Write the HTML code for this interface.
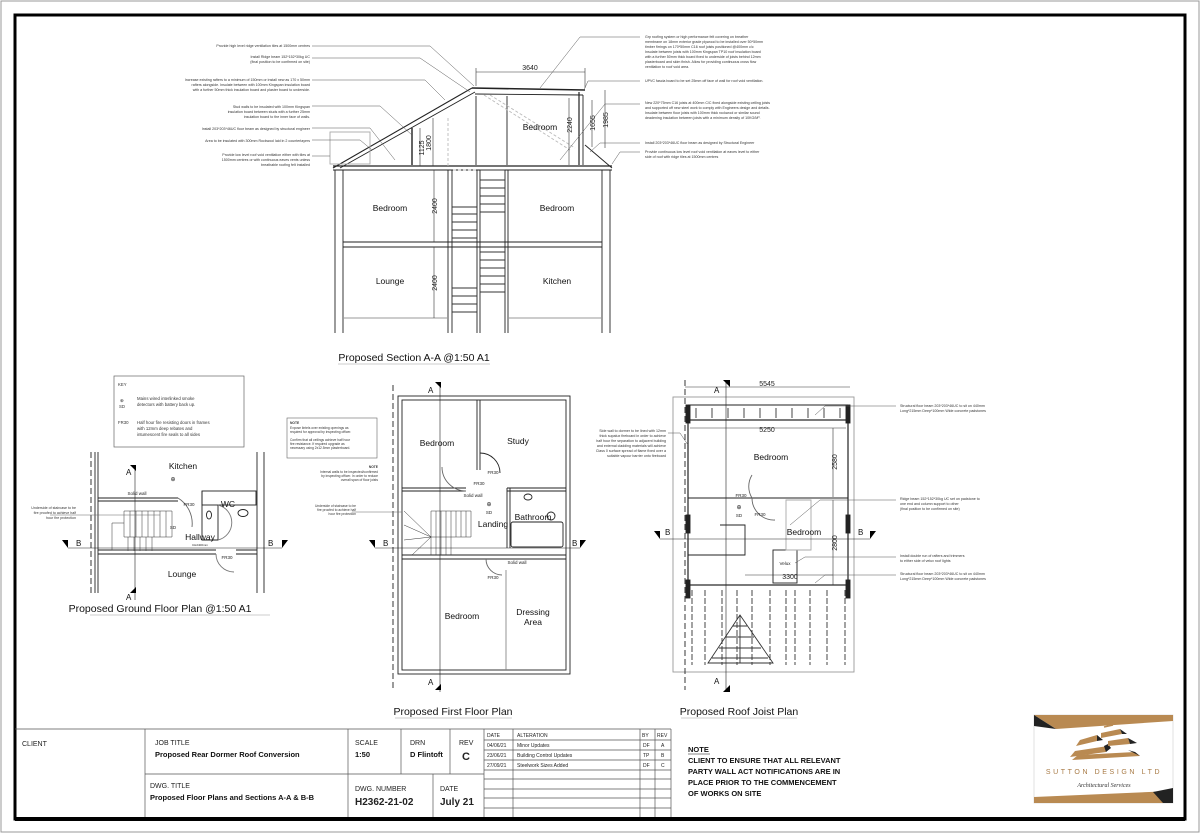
<!DOCTYPE html>
<html><head><meta charset="utf-8"><style>
html,body{margin:0;padding:0;background:#fff;}
svg{display:block;font-family:"Liberation Sans",sans-serif;}
.n{font-size:3.6px;fill:#333;}
.r{font-size:8.5px;fill:#111;}
.d{font-size:7px;fill:#222;}
.t{font-size:10.5px;fill:#111;}
.tb{font-size:7px;fill:#222;}
.tbb{font-size:7.5px;fill:#111;font-weight:bold;}
.s{font-size:4.5px;fill:#222;}
</style></head><body>
<svg width="1200" height="834" viewBox="0 0 1200 834" xmlns="http://www.w3.org/2000/svg">
<rect x="0" y="0" width="1200" height="834" fill="#fff"/>
<rect x="1" y="1" width="1198" height="831" fill="none" stroke="#999" stroke-width="1"/>
<rect x="15" y="15" width="1170" height="804" fill="none" stroke="#000" stroke-width="3"/>
<line x1="15" y1="819" x2="1185" y2="819" stroke="#000" stroke-width="4"/>

<!-- ============ SECTION A-A ============ -->
<g stroke="#222" stroke-width="0.9" fill="none">
  <line x1="335" y1="170" x2="335" y2="333"/><line x1="343" y1="170" x2="343" y2="333"/>
  <line x1="602" y1="170" x2="602" y2="333"/><line x1="610" y1="170" x2="610" y2="333"/>
  <line x1="448" y1="170" x2="448" y2="333"/><line x1="452" y1="170" x2="452" y2="333"/>
  <line x1="477" y1="170" x2="477" y2="333"/><line x1="480" y1="170" x2="480" y2="333"/>
  <line x1="505" y1="170" x2="505" y2="333"/><line x1="508" y1="170" x2="508" y2="333"/>
  <line x1="333" y1="166" x2="612" y2="166" stroke-width="1.2"/>
  <line x1="333" y1="170" x2="612" y2="170"/>
  <line x1="343" y1="242" x2="602" y2="242"/><line x1="343" y1="247" x2="602" y2="247"/>
  <line x1="343" y1="318" x2="448" y2="318" stroke="#999"/><line x1="508" y1="318" x2="602" y2="318" stroke="#999"/>
  <line x1="333" y1="168" x2="472" y2="88" stroke-width="1.1"/>
  <line x1="340" y1="168" x2="475" y2="92"/>
  <line x1="472" y1="88" x2="585" y2="90" stroke-width="1.6"/>
  <line x1="475" y1="94" x2="583" y2="95"/>
  <line x1="579" y1="92" x2="579" y2="165" stroke-width="1.2"/>
  <line x1="583" y1="95" x2="583" y2="165"/>
  <line x1="585" y1="145" x2="612" y2="168"/>
  <line x1="412" y1="128" x2="412" y2="165" stroke-width="1.4"/>
  <line x1="476" y1="96" x2="476" y2="165"/><line x1="507" y1="96" x2="507" y2="165"/>
  <rect x="330" y="132" width="40" height="32" stroke="#aaa"/>
  <g stroke="#bbb" stroke-dasharray="3,2"><line x1="484" y1="95" x2="570" y2="150"/><line x1="490" y1="95" x2="575" y2="148"/><line x1="448" y1="118" x2="448" y2="166"/><line x1="453" y1="170" x2="477" y2="170"/></g>
  <g stroke="#333">
   <path d="M480 170 h25 M480 180 h25 M480 188 h25 M480 196 h25 M480 204 h25 M480 212 h25"/>
   <path d="M452 207 h25 M452 214 h25 M452 222 h25 M452 230 h25 M452 238 h25 M477 200 v12"/>
   <path d="M480 252 h25 M480 260 h25 M480 268 h25 M480 276 h25 M480 284 h25 M480 292 h25"/>
   <path d="M452 288 h25 M452 296 h25 M452 304 h25 M452 312 h25"/>
  </g>
  <g stroke="#333" stroke-width="0.6">
   <line x1="476" y1="72" x2="585" y2="72"/><line x1="476" y1="68" x2="476" y2="86"/><line x1="585" y1="68" x2="585" y2="88"/>
   <line x1="433" y1="118" x2="433" y2="166"/><line x1="420" y1="128" x2="420" y2="166"/>
   <line x1="569" y1="98" x2="569" y2="165"/><line x1="592" y1="100" x2="592" y2="147"/><line x1="605" y1="90" x2="605" y2="148"/>
   <line x1="434" y1="170" x2="434" y2="242"/><line x1="434" y1="247" x2="434" y2="318"/>
  </g>
  <g stroke="#555" stroke-width="0.5">
   <path d="M312 46 H430 L474 86"/><path d="M312 58 H420 L470 92"/><path d="M312 80 H425 L445 100"/><path d="M312 106 H380 L412 135"/>
   <path d="M312 128 H370 L395 160"/><path d="M312 140 H360 L372 150"/><path d="M312 156 H330"/>
  </g>
  <g stroke="#555" stroke-width="0.5">
   <path d="M640 37 H580 L540 88"/><path d="M640 81 H588 L584 90"/><path d="M640 104 H605 L560 160"/><path d="M640 143 H600 L590 152"/><path d="M640 152 H620 L612 164"/>
  </g>
</g>
<g class="d" text-anchor="middle">
 <text x="530" y="70">3640</text>
 <text transform="translate(431,143) rotate(-90)">1800</text>
 <text transform="translate(424,148) rotate(-90)">1125</text>
 <text transform="translate(572,125) rotate(-90)">2240</text>
 <text transform="translate(595,123) rotate(-90)">1655</text>
 <text transform="translate(608,120) rotate(-90)">1985</text>
 <text transform="translate(437,206) rotate(-90)">2400</text>
 <text transform="translate(437,283) rotate(-90)">2400</text>
</g>
<g class="r" text-anchor="middle">
 <text x="540" y="130">Bedroom</text>
 <text x="390" y="211">Bedroom</text><text x="557" y="211">Bedroom</text>
 <text x="390" y="284">Lounge</text><text x="557" y="284">Kitchen</text>
</g>
<text class="t" x="414" y="361" text-anchor="middle">Proposed Section A-A @1:50 A1</text>
<line x1="338" y1="364" x2="490" y2="364" stroke="#999" stroke-width="0.6"/>
<g class="n" text-anchor="end">
 <text x="310" y="47">Provide high level ridge ventilation tiles at 1500mm centres</text>
 <text x="310" y="58">Install Ridge beam 152*152*30kg UC</text><text x="310" y="63">(final position to be confirmed on site)</text>
 <text x="310" y="81">Increase existing rafters to a minimum of 150mm or install new as 170 x 50mm</text>
 <text x="310" y="86">rafters alongside. Insulate between with 100mm Kingspan insulation board</text>
 <text x="310" y="91">with a further 50mm thick insulation board and plaster board to underside.</text>
 <text x="310" y="108">Stud walls to be insulated with 100mm Kingspan</text><text x="310" y="113">insulation board between studs with a further 25mm</text><text x="310" y="118">insulation board to the inner face of walls.</text>
 <text x="310" y="130">Install 203*203*46UC floor beam as designed by structural engineer</text>
 <text x="310" y="142">Area to be insulated with 300mm Rockwool laid in 2 counterlayers</text>
 <text x="310" y="156">Provide low level roof void ventilation either with tiles at</text><text x="310" y="161">1500mm centres or with continuous eaves vents unless</text><text x="310" y="166">breathable roofing felt installed</text>
</g>
<g class="n">
 <text x="645" y="38">Grp roofing system or high performance felt covering on breather</text>
 <text x="645" y="43">membrane on 18mm exterior grade plywood to be installed over 50*50mm</text>
 <text x="645" y="48">timber firrings on 170*50mm C16 roof joists positioned @400mm c/c</text>
 <text x="645" y="53">Insulate between joists with 100mm Kingspan TP10 roof insulation board</text>
 <text x="645" y="58">with a further 50mm thick board fixed to underside of joists behind 12mm</text>
 <text x="645" y="63">plasterboard and skim finish. Allow for providing continuous cross flow</text>
 <text x="645" y="68">ventilation to roof void area.</text>
 <text x="645" y="82">UPVC fascia board to be set 25mm off face of wall for roof void ventilation.</text>
 <text x="645" y="104">New 220*75mm C16 joists at 400mm C/C fixed alongside existing ceiling joists</text>
 <text x="645" y="109">and supported off new steel work to comply with Engineers design and details.</text>
 <text x="645" y="114">Insulate between floor joists with 100mm thick rockwool or similar sound</text>
 <text x="645" y="119">deadening insulation between joists with a minimum density of 10KG/M³.</text>
 <text x="645" y="144">Install 203*203*46UC floor beam as designed by Structural Engineer</text>
 <text x="645" y="153">Provide continuous low level roof void ventilation at eaves level to either</text>
 <text x="645" y="158">side of roof with ridge tiles at 1500mm centres</text>
</g>

<!-- ============ KEY ============ -->
<rect x="114" y="376" width="130" height="71" fill="none" stroke="#666" stroke-width="0.7"/>
<g class="n" style="font-size:4.3px">
 <text x="118" y="386">KEY</text>
 <text x="120" y="402">⊕</text><text x="119" y="408">SD</text>
 <text x="137" y="400">Mains wired interlinked smoke</text><text x="137" y="406">detectors with battery back up.</text>
 <text x="118" y="424">FR30</text>
 <text x="137" y="424">Half hour fire resisting doors in frames</text><text x="137" y="430">with 12mm deep rebates and</text><text x="137" y="436">intumescent fire seals to all sides</text>
</g>

<!-- ============ GROUND FLOOR ============ -->
<g stroke="#222" stroke-width="0.9" fill="none">
 <line x1="91" y1="452" x2="91" y2="593" stroke-dasharray="6,3"/><line x1="95" y1="452" x2="95" y2="593"/><line x1="98" y1="452" x2="98" y2="593"/>
 <line x1="257" y1="452" x2="257" y2="593"/><line x1="264" y1="452" x2="264" y2="593"/>
 <path d="M98 498 H178 M98 501 H178"/>
 <path d="M98 550 H216 M98 554 H216 M236 550 H257 M236 554 H257"/>
 <rect x="202" y="491" width="54" height="14"/>
 <path d="M202 491 V540 M202 505 V540 H218 V505"/>
 <path d="M178 498 A30 30 0 0 1 192 527" stroke="#666"/>
 <path d="M218 540 A18 18 0 0 0 218 505" stroke="#777"/>
 <path d="M216 554 A18 18 0 0 0 234 572" stroke="#777"/>
 <ellipse cx="243" cy="513" rx="5" ry="3.5"/><ellipse cx="209" cy="515" rx="2.5" ry="4"/>
 <g stroke="#333" stroke-width="0.5">
  <path d="M124 511 h48 v26 h-48 z M130 511 v26 M136 511 v26 M142 511 v26 M148 511 v26 M154 511 v26 M160 511 v26 M166 511 v26"/>
  <path d="M128 537 v14 M134 537 v14 M140 537 v14 M146 537 v14 M152 537 v14"/>
  <path d="M112 523 v27 h30 M112 523 h12"/>
 </g>
 <line x1="135" y1="468" x2="135" y2="600" stroke-width="0.6"/>
 <line x1="68" y1="548" x2="282" y2="548" stroke-width="0.6"/>
 <path d="M50 515 H160" stroke="#666" stroke-width="0.5"/>
</g>
<g fill="#000">
 <path d="M130 465 h6 v6 z"/><path d="M130 593 h6 v-6 z"/>
 <path d="M68 548 v-8 h-6 z"/><path d="M282 548 v-8 h6 z"/>
</g>
<g class="r" style="font-size:8px"><text x="126" y="475">A</text><text x="126" y="600">A</text><text x="76" y="546">B</text><text x="268" y="546">B</text></g>
<g class="r" text-anchor="middle"><text x="183" y="469">Kitchen</text><text x="228" y="507">WC</text><text x="200" y="540">Hallway</text><text x="182" y="577">Lounge</text></g>
<g class="s" text-anchor="middle"><text x="189" y="506">FR30</text><text x="227" y="559">FR30</text><text x="173" y="481" font-size="6">⊕</text><text x="173" y="529">SD</text><text x="200" y="546" style="font-size:3px">CH2400mm</text><text x="137" y="495">Solid wall</text></g>
<g class="n" text-anchor="end"><text x="76" y="509">Underside of staircase to be</text><text x="76" y="514">fire proofed to achieve half</text><text x="76" y="519">hour fire protection</text></g>
<text class="t" x="160" y="612" text-anchor="middle" style="font-size:10.5px">Proposed Ground Floor Plan @1:50 A1</text>
<line x1="90" y1="615" x2="270" y2="615" stroke="#999" stroke-width="0.6"/>

<!-- ============ FIRST FLOOR ============ -->
<rect x="287" y="418" width="90" height="40" fill="none" stroke="#666" stroke-width="0.6"/>
<g class="n" style="font-size:3.3px">
 <text x="290" y="424" font-weight="bold">NOTE</text>
 <text x="290" y="429">Expose lintels over existing openings as</text><text x="290" y="433">required for approval by inspecting officer.</text>
 <text x="290" y="441">Confirm that all ceilings achieve half hour</text><text x="290" y="445">fire resistance. If required upgrade as</text><text x="290" y="449">necessary using 2x12.5mm plasterboard.</text>
</g>
<g class="n" style="font-size:3.3px" text-anchor="end">
 <text x="378" y="468" font-weight="bold">NOTE</text>
 <text x="378" y="473">Internal walls to be inspected/confirmed</text><text x="378" y="477">by inspecting officer. In order to reduce</text><text x="378" y="481">overall span of floor joists</text>
 <text x="356" y="507">Underside of staircase to be</text><text x="356" y="511">fire proofed to achieve half</text><text x="356" y="515">hour fire protection</text>
</g>
<g stroke="#222" stroke-width="0.9" fill="none">
 <rect x="398" y="396" width="172" height="278"/>
 <rect x="402" y="400" width="164" height="270"/>
 <line x1="393" y1="385" x2="393" y2="690" stroke-dasharray="6,3"/>
 <path d="M402 488 H466 M402 491 H466"/>
 <path d="M477 400 V470 M480 400 V470"/>
 <path d="M507 488 V548 M510 488 V548"/>
 <path d="M507 488 H566 M507 491 H566"/>
 <path d="M402 555 H566 M402 559 H566"/>
 <path d="M506 570 V670" stroke="#888"/>
 <path d="M480 453 A20 20 0 0 1 500 473"/>
 <path d="M466 491 A24 24 0 0 1 442 467" stroke="#666"/>
 <path d="M486 559 A16 16 0 0 0 502 575" stroke="#666"/>
 <rect x="511" y="522" width="52" height="25" rx="2"/>
 <ellipse cx="528" cy="497" rx="4" ry="3"/><ellipse cx="551" cy="516" rx="4" ry="4"/>
 <g stroke="#333" stroke-width="0.5">
  <path d="M431 511 h40 v26 h-40 z M436 511 v26 M441 511 v26 M446 511 v26 M451 511 v26 M456 511 v26 M461 511 v26 M466 511 v26"/>
  <path d="M431 537 v18 M436 537 v18 M441 537 v18 M446 537 v18 M451 537 v18"/>
  <path d="M404 511 L431 537 M404 525 L431 537 M404 540 L431 537 M412 555 L431 537"/>
 </g>
 <line x1="440" y1="385" x2="440" y2="692" stroke-width="0.6"/>
 <line x1="375" y1="548" x2="580" y2="548" stroke-width="0.6"/>
 <path d="M352 512 H402" stroke="#666" stroke-width="0.5"/>
</g>
<g fill="#000">
 <path d="M435 382 h6 v6 z"/><path d="M435 690 h6 v-6 z"/>
 <path d="M375 548 v-8 h-6 z"/><path d="M580 548 v-8 h6 z"/>
</g>
<g class="r" style="font-size:8px"><text x="428" y="393">A</text><text x="428" y="685">A</text><text x="383" y="546">B</text><text x="572" y="546">B</text></g>
<g class="r" text-anchor="middle"><text x="437" y="446">Bedroom</text><text x="518" y="444">Study</text><text x="533" y="520">Bathroom</text><text x="493" y="527">Landing</text><text x="462" y="619">Bedroom</text><text x="533" y="615">Dressing</text><text x="533" y="625">Area</text></g>
<g class="s" text-anchor="middle"><text x="493" y="474">FR30</text><text x="479" y="485">FR30</text><text x="493" y="579">FR30</text><text x="489" y="506" font-size="6">⊕</text><text x="489" y="514">SD</text><text x="473" y="497">Solid wall</text><text x="517" y="564">Solid wall</text></g>
<text class="t" x="453" y="715" text-anchor="middle">Proposed First Floor Plan</text>
<line x1="395" y1="718" x2="512" y2="718" stroke="#999" stroke-width="0.6"/>

<!-- ============ ROOF JOIST ============ -->
<g stroke="#222" stroke-width="0.9" fill="none">
 <rect x="673" y="397" width="181" height="275" stroke="#999"/>
 <line x1="685" y1="380" x2="685" y2="690" stroke-dasharray="6,3"/>
 <rect x="688" y="420" width="160" height="165" stroke-width="1.2"/>
 <path d="M688 405 H848 M688 420 H732 M803 420 H848"/>
 <path d="M688 498 H755 M755 498 H848" stroke-width="1"/>
 <path d="M688 555 H745 V525 H720"/>
 <rect x="686" y="405" width="4" height="18" fill="#222"/><rect x="846" y="405" width="4" height="18" fill="#222"/>
 <rect x="686" y="515" width="4" height="18" fill="#222"/><rect x="846" y="515" width="4" height="18" fill="#222"/>
 <rect x="686" y="580" width="4" height="18" fill="#222"/><rect x="846" y="580" width="4" height="18" fill="#222"/>
 <rect x="773" y="550" width="24" height="33"/>
 <path d="M752 475 A22 22 0 0 0 752 498 M752 498 A22 22 0 0 0 775 520" stroke="#666"/>
 <path d="M786 500 h25 v50 h-25 z" stroke="#aaa"/>
 <g stroke="#333" stroke-dasharray="6,2">
  <path d="M692 590 V665 M705 590 V665 M722 590 V665 M737 590 V665 M752 590 V665 M770 590 V665 M786 590 V665 M795 590 V665 M810 590 V665 M827 590 V665 M845 590 V665"/>
 </g>
 <g stroke="#333"><path d="M696 408 v10 M712 408 v10 M728 408 v10 M744 408 v10 M760 408 v10 M776 408 v10 M792 408 v10 M808 408 v10 M824 408 v10 M840 408 v10"/></g>
 <path d="M740 615 L708 663 H773 Z M740 615 V663 M733 626 h14 M726 637 h28 M719 648 h42 M712 658 h56" stroke="#333"/>
 <g stroke="#333" stroke-width="0.6">
  <line x1="685" y1="387" x2="850" y2="387"/><line x1="690" y1="428" x2="846" y2="428"/>
  <line x1="833" y1="428" x2="833" y2="497"/><line x1="833" y1="500" x2="833" y2="585"/>
  <line x1="745" y1="575" x2="833" y2="575"/>
 </g>
 <line x1="726" y1="380" x2="726" y2="692" stroke-width="0.6"/>
 <line x1="660" y1="539" x2="870" y2="539" stroke-width="0.6"/>
 <g stroke="#555" stroke-width="0.5">
  <path d="M896 406 H825 L815 415"/><path d="M896 500 H820 L790 525"/><path d="M896 557 H805 L795 563"/><path d="M896 575 H825 L815 583"/><path d="M668 433 H680 L688 445"/>
 </g>
</g>
<g fill="#000">
 <path d="M723 380 h7 v7 z"/><path d="M723 692 h7 v-7 z"/>
 <path d="M660 539 v-8 h-6 z"/><path d="M870 539 v-8 h6 z"/>
</g>
<g class="r" style="font-size:8px"><text x="714" y="393">A</text><text x="714" y="684">A</text><text x="665" y="535">B</text><text x="858" y="535">B</text></g>
<g class="d" text-anchor="middle"><text x="767" y="386">5545</text><text x="767" y="432">5250</text><text x="790" y="579">3300</text>
<text transform="translate(837,462) rotate(-90)">2580</text><text transform="translate(837,543) rotate(-90)">2800</text></g>
<g class="r" text-anchor="middle"><text x="771" y="460">Bedroom</text><text x="804" y="535">Bedroom</text></g>
<g class="s" text-anchor="middle"><text x="741" y="497">FR30</text><text x="760" y="516">FR30</text><text x="739" y="509" font-size="6">⊕</text><text x="739" y="517">SD</text><text x="785" y="565">Velux</text></g>
<g class="n" text-anchor="end"><text x="666" y="432">Side wall to dormer to be lined with 12mm</text><text x="666" y="437">thick supalux fireboard in order to achieve</text><text x="666" y="442">half hour fire separation to adjacent building</text><text x="666" y="447">and external cladding materials will achieve</text><text x="666" y="452">Class 0 surface spread of flame fixed over a</text><text x="666" y="457">suitable vapour barrier onto fireboard</text></g>
<g class="n">
 <text x="900" y="407">Structural floor beam 203*203*46UC to sit on 440mm</text><text x="900" y="412">Long*215mm Deep*100mm Wide concrete padstones</text>
 <text x="900" y="500">Ridge beam 152*152*30kg UC set on padstone to</text><text x="900" y="505">one end and column support to other</text><text x="900" y="510">(final position to be confirmed on site)</text>
 <text x="900" y="557">Install double run of rafters and trimmers</text><text x="900" y="562">to either side of velux roof lights</text>
 <text x="900" y="575">Structural floor beam 203*203*46UC to sit on 440mm</text><text x="900" y="580">Long*215mm Deep*100mm Wide concrete padstones</text>
</g>
<text class="t" x="739" y="715" text-anchor="middle">Proposed Roof Joist Plan</text>
<line x1="681" y1="718" x2="797" y2="718" stroke="#999" stroke-width="0.6"/>

<!-- ============ TITLE BLOCK ============ -->
<g stroke="#555" stroke-width="0.7" fill="none">
 <line x1="15" y1="729" x2="671" y2="729"/>
 <line x1="145" y1="774" x2="484" y2="774"/>
 <line x1="145" y1="729" x2="145" y2="817"/><line x1="348" y1="729" x2="348" y2="817"/>
 <line x1="401" y1="729" x2="401" y2="774"/><line x1="450" y1="729" x2="450" y2="774"/>
 <line x1="433" y1="774" x2="433" y2="817"/>
 <line x1="484" y1="729" x2="484" y2="817"/><line x1="513" y1="729" x2="513" y2="817"/>
 <line x1="640" y1="729" x2="640" y2="817"/><line x1="655" y1="729" x2="655" y2="817"/><line x1="671" y1="729" x2="671" y2="817"/>
 <path d="M484 740 H671 M484 750 H671 M484 760 H671 M484 770 H671 M484 779 H671 M484 789 H671 M484 798 H671 M484 808 H671"/>
</g>
<g class="tb">
 <text x="22" y="746">CLIENT</text>
 <text x="155" y="745">JOB TITLE</text><text x="155" y="757" class="tbb">Proposed Rear Dormer Roof Conversion</text>
 <text x="355" y="745">SCALE</text><text x="355" y="757" class="tbb">1:50</text>
 <text x="410" y="745">DRN</text><text x="410" y="757" class="tbb">D Flintoft</text>
 <text x="459" y="745">REV</text><text x="462" y="760" style="font-size:11px;font-weight:bold">C</text>
 <text x="150" y="788">DWG. TITLE</text><text x="150" y="800" class="tbb">Proposed Floor Plans and Sections A-A &amp; B-B</text>
 <text x="355" y="791">DWG. NUMBER</text><text x="355" y="805" style="font-size:10px;font-weight:bold">H2362-21-02</text>
 <text x="440" y="791">DATE</text><text x="440" y="805" style="font-size:10px;font-weight:bold">July 21</text>
</g>
<g style="font-size:5px;fill:#222">
 <text x="487" y="737">DATE</text><text x="517" y="737">ALTERATION</text><text x="642" y="737">BY</text><text x="657" y="737">REV</text>
 <text x="487" y="747">04/06/21</text><text x="517" y="747">Minor Updates</text><text x="643" y="747">DF</text><text x="661" y="747">A</text>
 <text x="487" y="757">23/06/21</text><text x="517" y="757">Building Control Updates</text><text x="643" y="757">TP</text><text x="661" y="757">B</text>
 <text x="487" y="767">27/09/21</text><text x="517" y="767">Steelwork Sizes Added</text><text x="643" y="767">DF</text><text x="661" y="767">C</text>
</g>
<g style="font-size:7.5px;font-weight:bold;fill:#111">
 <text x="688" y="752">NOTE</text><line x1="688" y1="754" x2="710" y2="754" stroke="#111" stroke-width="0.6"/>
 <text x="688" y="763">CLIENT TO ENSURE THAT ALL RELEVANT</text>
 <text x="688" y="774">PARTY WALL ACT NOTIFICATIONS ARE IN</text>
 <text x="688" y="785">PLACE PRIOR TO THE COMMENCEMENT</text>
 <text x="688" y="796">OF WORKS ON SITE</text>
</g>
<!-- logo -->
<g>
 <rect x="1034" y="715" width="139" height="88" fill="#fff" stroke="#ccc" stroke-width="0.6"/>
 <path d="M1034 715 H1173 V721 L1056 729 Z" fill="#b98a52"/>
 <path d="M1034 715 L1056 729 L1034 726 Z" fill="#222"/>
 <path d="M1034 803 H1173 V791 L1034 797 Z" fill="#b98a52"/>
 <path d="M1153 792 L1173 788 V803 H1163 Z" fill="#222"/>
 <!-- stepped slabs -->
 <path d="M1072 760 L1140 756 L1135 752 L1078 755 Z" fill="#b98a52"/>
 <path d="M1128 750 L1140 756 L1135 752 Z" fill="#222"/>
 <path d="M1070 757 L1106 752 L1108 746 L1075 751 Z" fill="#b98a52"/>
 <path d="M1106 752 L1111 748 L1108 744 L1104 746 Z" fill="#222"/>
 <path d="M1108 746 L1130 744 L1128 738 L1108 741 Z" fill="#b98a52"/>
 <path d="M1128 738 L1137 743 L1130 744 Z" fill="#222"/>
 <path d="M1076 746 L1097 741 L1097 735 L1080 740 Z" fill="#b98a52"/>
 <path d="M1097 735 L1103 740 L1097 741 Z" fill="#222"/>
 <path d="M1101 738 L1122 734 L1120 729 L1101 733 Z" fill="#b98a52"/>
 <path d="M1120 729 L1127 734 L1122 734 Z" fill="#222"/>
 <path d="M1104 727 L1113 725" stroke="#b98a52" stroke-width="1.5"/>
 <text x="1104" y="774" text-anchor="middle" style="font-size:7px;letter-spacing:2.6px;fill:#a87a45">SUTTON DESIGN LTD</text>
 <text x="1104" y="787" text-anchor="middle" style="font-size:6px;font-style:italic;fill:#333;font-family:'Liberation Serif',serif">Architectural Services</text>
</g>
</svg>
</body></html>
